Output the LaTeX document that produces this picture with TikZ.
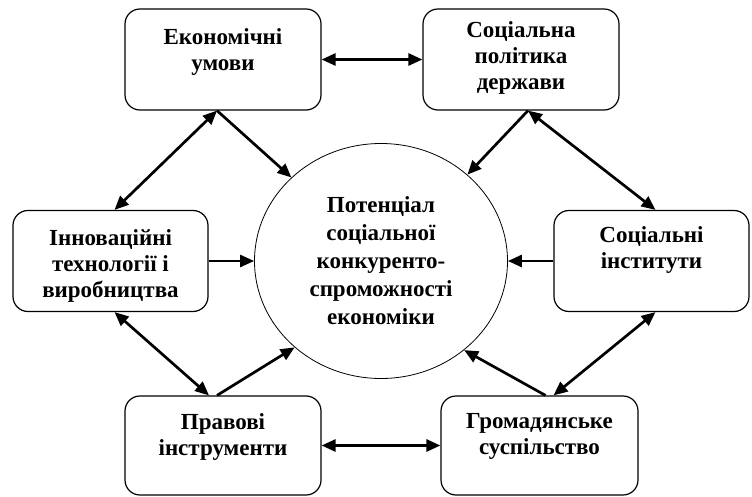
\documentclass[tikz,border=0pt]{standalone}
\usepackage{fontspec}
\setmainfont{Liberation Serif}
\usetikzlibrary{shapes.geometric,arrows.meta}

\begin{document}
\begin{tikzpicture}[x=1pt,y=-1pt,
	box/.style={draw,line width=1.2pt,rounded corners=15pt,minimum width=196pt,minimum height=101pt,inner sep=0pt},
	txt/.style={align=center,font=\fontsize{23}{26}\selectfont\bfseries},
	link/.style={line width=2.7pt,-{Triangle[length=14pt,width=12pt]}},
	twoway/.style={line width=2.7pt,{Triangle[length=14pt,width=12pt]}-{Triangle[length=14pt,width=12pt]}}]
	\useasboundingbox (0,0) rectangle (752,497);
	\node[box] (econ) at (223,59.5) {};
	\node[box] (policy) at (521,59.5) {};
	\node[box,minimum width=195pt] (innov) at (110.5,261) {};
	\node[box,minimum width=195pt] (inst) at (651.5,261) {};
	\node[box,minimum height=99pt] (legal) at (223,445.5) {};
	\node[box,minimum width=197pt,minimum height=99pt] (civil) at (539.5,445.5) {};
	\node[draw,ellipse,line width=0.8pt,minimum width=253pt,minimum height=235pt,inner sep=0pt,
		align=center,font=\fontsize{23}{28}\selectfont\bfseries] (pot) at (381,261)
		{Потенціал\\соціальної\\конкуренто-\\спроможності\\економіки};
	\node[txt] (econT) at ([yshift=7pt]econ) {Економічні\\умови};
	\node[txt] (policyT) at ([yshift=2pt]policy) {Соціальна\\політика\\держави};
	\node[txt] (innovT) at ([yshift=-5pt]innov) {Інноваційні\\технології і\\виробництва};
	\node[txt] (instT) at ([yshift=11pt]inst) {Соціальні\\інститути};
	\node[txt] (legalT) at ([yshift=9pt]legal) {Правові\\інструменти};
	\node[txt] (civilT) at ([yshift=9pt]civil) {Громадянське\\суспільство};
	\draw[twoway] (econ) -- (policy);
	\draw[twoway] ([xshift=-6pt]econ.south) -- ([xshift=4pt]innov.north);
	\draw[link] ([xshift=-6pt]econ.south) -- (pot.137);
	\draw[link] ([xshift=7pt]policy.south) -- (pot.45);
	\draw[twoway] ([xshift=7pt]policy.south) -- ([xshift=4pt]inst.north);
	\draw[link] (innov.east) -- (pot.west);
	\draw[link] (inst.west) -- (pot.east);
	\draw[twoway] ([xshift=4pt]innov.south) -- ([xshift=-14pt]legal.north);
	\draw[link] ([xshift=-6pt]legal.north) -- (pot.225);
	\draw[twoway] (legal) -- (civil);
	\draw[link] ([xshift=6pt]civil.north) -- (pot.313);
	\draw[twoway] ([xshift=14pt]civil.north) -- ([xshift=4pt]inst.south);
\end{tikzpicture}
\end{document}
